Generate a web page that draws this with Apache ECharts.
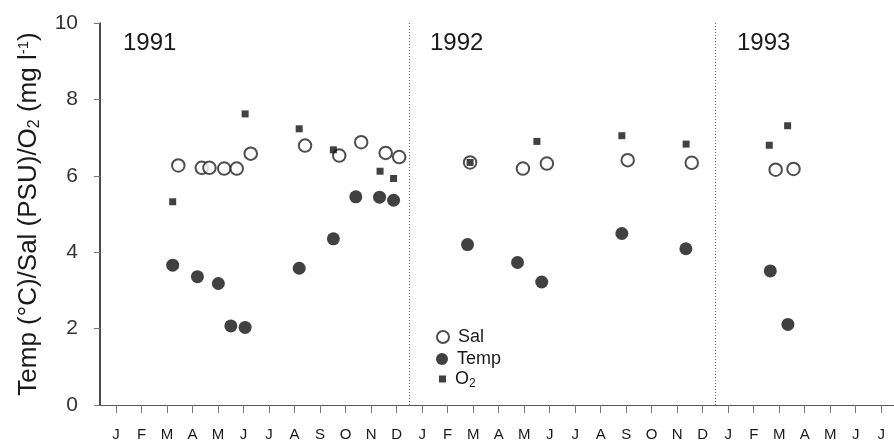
<!DOCTYPE html>
<html>
<head>
    <meta charset="utf-8">
    <title>Temp / Sal / O2</title>
    <script src="https://cdn.jsdelivr.net/npm/echarts@6/dist/echarts.min.js"></script>
</head>
<body style="margin:0;">
    <div id="main" style="width: 894px;height: 442px;"></div>
    <script type="text/javascript">
        // month letters along the x axis, Jan 1991 = 0
        var months = ['J','F','M','A','M','J','J','A','S','O','N','D',
                      'J','F','M','A','M','J','J','A','S','O','N','D',
                      'J','F','M','A','M','J','J'];
        var monthTicks = months.map(function (m, i) { return i; });
        var yearBreaks = [11.5, 23.5];
        var years = ['1991', '1992', '1993'];

        // [month index, value]
        var salData = [
            [2.44, 6.27], [3.36, 6.21], [3.66, 6.21], [4.24, 6.19], [4.73, 6.19], [5.28, 6.58],
            [7.41, 6.79], [8.75, 6.53], [9.61, 6.88], [10.57, 6.6], [11.1, 6.49],
            [13.88, 6.35], [15.95, 6.19], [16.89, 6.32], [20.06, 6.41], [22.57, 6.34],
            [25.86, 6.16], [26.56, 6.18]
        ];
        var tempData = [
            [2.22, 3.66], [3.19, 3.36], [4.01, 3.18], [4.5, 2.07], [5.06, 2.03],
            [7.18, 3.58], [8.52, 4.35], [9.4, 5.45], [10.33, 5.44], [10.88, 5.36],
            [13.78, 4.2], [15.74, 3.73], [16.69, 3.22], [19.83, 4.49], [22.34, 4.09],
            [25.65, 3.51], [26.34, 2.11]
        ];
        var o2Data = [
            [2.22, 5.32], [5.06, 7.62], [7.18, 7.23], [8.52, 6.68], [10.35, 6.12], [10.88, 5.93],
            [13.88, 6.35], [16.5, 6.9], [19.83, 7.05], [22.35, 6.83],
            [25.61, 6.8], [26.33, 7.31]
        ];

        var font = 'Liberation Sans';
        var ink = '#1a1a1a';
        var myChart = echarts.init(document.getElementById('main'));

        var legendBase = {
            orient: 'vertical',
            left: 436,
            padding: 0,
            itemGap: 0,
            selectedMode: false,
            textStyle: {
                fontFamily: font, fontSize: 18, color: ink, padding: [0, 0, 0, 4],
                rich: { sub: { fontFamily: font, fontSize: 12, color: ink, padding: [9, 0, 0, 0] } }
            },
            formatter: function (n) { return n === 'O2' ? 'O{sub|2}' : n; }
        };

        var option = {
            animation: false,
            grid: { left: 100, right: 0, top: 23, bottom: 36 },
            legend: [
                Object.assign({}, legendBase, { top: 328, itemWidth: 12, itemHeight: 12, data: ['Sal'] }),
                Object.assign({}, legendBase, { top: 350, itemWidth: 12, itemHeight: 12, data: ['Temp'] }),
                Object.assign({}, legendBase, { top: 370, left: 439, itemWidth: 7, itemHeight: 7, data: ['O2'] })
            ],
            xAxis: {
                type: 'value',
                min: -0.63,
                max: 30.5,
                splitLine: { show: false },
                axisLine: { lineStyle: { color: '#555', width: 1.2 } },
                axisTick: { customValues: monthTicks, length: 8, lineStyle: { color: '#777' } },
                axisLabel: {
                    customValues: monthTicks,
                    margin: 22,
                    fontFamily: font, fontSize: 15, color: ink,
                    formatter: function (v) { return months[Math.round(v)]; }
                }
            },
            yAxis: {
                type: 'value',
                min: 0,
                max: 10,
                interval: 2,
                name: 'Temp (°C)/Sal (PSU)/O{sub|2} (mg l{sup|-1})',
                nameLocation: 'middle',
                nameGap: 57,
                nameTextStyle: {
                    fontFamily: font, fontSize: 26, color: ink,
                    rich: {
                        sub: { fontFamily: font, fontSize: 16, color: ink, padding: [12, 0, 0, 0] },
                        sup: { fontFamily: font, fontSize: 15, color: ink, padding: [0, 0, 10, 0] }
                    }
                },
                splitLine: { show: false },
                axisLine: { show: true, onZero: false, lineStyle: { color: '#111', width: 1.5 } },
                axisTick: { length: 6, lineStyle: { color: '#777' } },
                axisLabel: { margin: 22, fontFamily: font, fontSize: 21, color: '#333' }
            },
            graphic: [
                { type: 'text', left: 123, top: 31, style: { text: years[0], font: '24px "Liberation Sans"', fill: ink } },
                { type: 'text', left: 430, top: 31, style: { text: years[1], font: '24px "Liberation Sans"', fill: ink } },
                { type: 'text', left: 737, top: 31, style: { text: years[2], font: '24px "Liberation Sans"', fill: ink } }
            ],
            series: [
                {
                    name: 'Temp',
                    type: 'scatter',
                    symbol: 'circle',
                    symbolSize: 13,
                    itemStyle: { color: '#111' },
                    data: tempData,
                    markLine: {
                        silent: true,
                        symbol: 'none',
                        label: { show: false },
                        lineStyle: { type: [1, 2], color: '#666', width: 1 },
                        data: yearBreaks.map(function (b) { return { xAxis: b }; })
                    }
                },
                {
                    name: 'Sal',
                    type: 'scatter',
                    symbol: 'emptyCircle',
                    symbolSize: 12.5,
                    itemStyle: { color: '#222', borderWidth: 1.3 },
                    data: salData
                },
                {
                    name: 'O2',
                    type: 'scatter',
                    symbol: 'rect',
                    symbolSize: 7,
                    itemStyle: { color: '#111' },
                    data: o2Data
                }
            ]
        };

        myChart.setOption(option);
        window.onresize = myChart.resize;
    </script>
</body>
</html>
